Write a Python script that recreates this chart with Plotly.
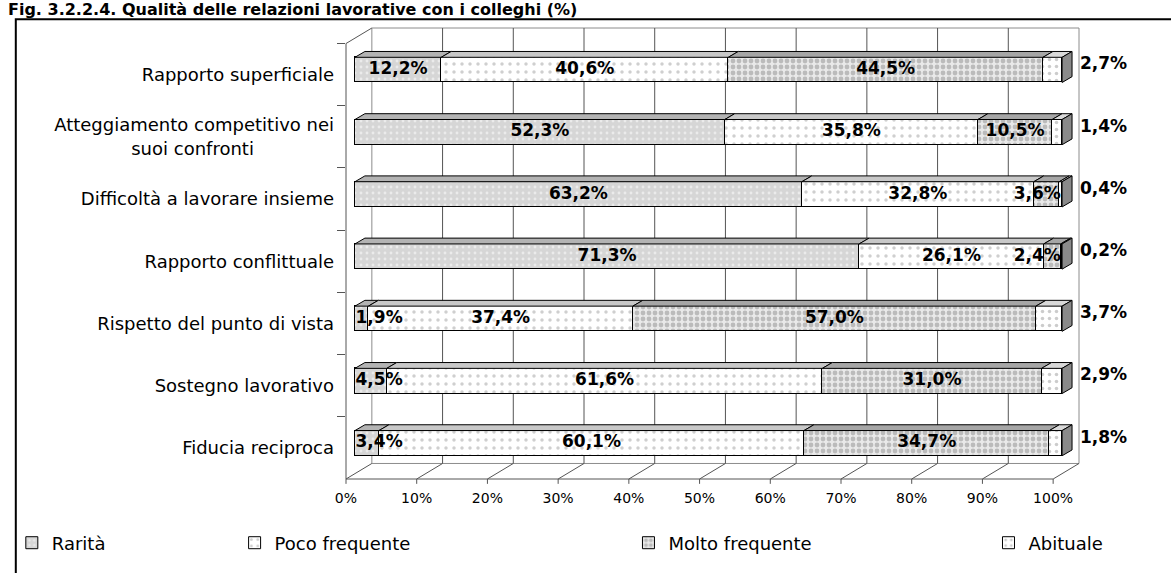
import plotly.graph_objects as go

# ---------------- data ----------------
categories = [
    "Rapporto superficiale",
    "Atteggiamento competitivo nei<br>suoi confronti" + "\u00a0" * 14,
    "Difficoltà a lavorare insieme",
    "Rapporto conflittuale",
    "Rispetto del punto di vista",
    "Sostegno lavorativo",
    "Fiducia reciproca",
]
series_names = ["Rarità", "Poco frequente", "Molto frequente", "Abituale"]
rarita = [12.2, 52.3, 63.2, 71.3, 1.9, 4.5, 3.4]
poco_frequente = [40.6, 35.8, 32.8, 26.1, 37.4, 61.6, 60.1]
molto_frequente = [44.5, 10.5, 3.6, 2.4, 57.0, 31.0, 34.7]
abituale = [2.7, 1.4, 0.4, 0.2, 3.7, 2.9, 1.8]
x_tick_values = [0, 10, 20, 30, 40, 50, 60, 70, 80, 90, 100]
x_tick_labels = ["0%", "10%", "20%", "30%", "40%", "50%", "60%", "70%", "80%", "90%", "100%"]
title_text = "Fig. 3.2.2.4. Qualità delle relazioni lavorative con i colleghi (%)"

# ---------------- styles / geometry ----------------
FONT = "DejaVu Sans"
W, H = 1171, 573
L, R, T, B = 342, 1080, 28, 493           # plot area in pixels
X0_PX = 351                               # pixel of value 0 on the bars
PXU = 7.11                                # pixels per percentage point
BAND_TOP = 44                             # top of first category band
CAT_H = (B - BAND_TOP) / len(categories)  # pixels per category
BAR_SHIFT = -0.076                        # bars drawn slightly above band centre
BAR_W = 0.405
DX = 10 / PXU                             # 3D depth in x units
DY = 6 / CAT_H                            # 3D depth in y units
BACK_OFF = 17                             # back wall offset (px) from bar axis
FRONT_OFF = -9                            # floor front offset (px) from bar axis
FLOOR_BACK = 477
BORDER_TOP = 19

series_vals = [rarita, poco_frequente, molto_frequente, abituale]
fills = ["#d6d6d6", "#ffffff", "#e9e9e9", "#ffffff"]
pat_fg = ["#ffffff", "#a0a0a0", "#8e8e8e", "#999999"]
pat_size = [6, 8, 6, 7]
pat_sol = [0.18, 0.15, 0.5, 0.2]
top_cols = ["#b3b3b3", "#c8c8c8", "#a6a6a6", "#d9d9d9"]
legend_text_x = [48, 272, 668, 1030]
legend_ids = ["legend", "legend2", "legend3", "legend4"]


def pxx(px):
    return (px - L) / (R - L)


def pxy(py):
    return (B - py) / (B - T)


def val_px(v):
    return X0_PX + v * PXU


n = len(categories)
ypos = list(range(n))
ybar = [p + BAR_SHIFT for p in ypos]

fig = go.Figure()

for s, (name, vals) in enumerate(zip(series_names, series_vals)):
    fig.add_trace(go.Bar(
        y=ybar, x=vals, orientation="h", name=name, width=BAR_W,
        legend=legend_ids[s],
        marker=dict(color=fills[s], line=dict(color="black", width=1),
                    pattern=dict(shape=".", fgcolor=pat_fg[s], size=pat_size[s],
                                 solidity=pat_sol[s], fillmode="overlay")),
        hoverinfo="skip",
    ))

# ---- labels ----
def fmt(v):
    return ("%.1f" % v).replace(".", ",") + "%"


CW = {",": 0.38, "%": 1.002}
LBL_SIZE = 17


def half_units(t):
    w = sum(CW.get(c, 0.696) for c in t) * LBL_SIZE
    return w / 2 / PXU


lx, ly, lt = [], [], []
for i in range(n):
    start = 0.0
    for s in range(3):
        v = series_vals[s][i]
        t = fmt(v)
        hu = half_units(t)
        mid = start + v / 2
        if mid - hu < 0:
            mid = hu + 0.1
        elif mid + hu > 100:
            mid = 100 - hu - 0.2
        lx.append(mid)
        ly.append(ybar[i])
        lt.append("<b>" + t + "</b>")
        start += v

fig.add_trace(go.Scatter(
    x=lx, y=ly, text=lt, mode="text", textposition="middle center",
    textfont=dict(family=FONT, size=LBL_SIZE, color="black"),
    showlegend=False, hoverinfo="skip", cliponaxis=False))

totals = [sum(series_vals[s][i] for s in range(4)) for i in range(n)]
fig.add_trace(go.Scatter(
    x=[t + 18 / PXU for t in totals], y=[yb - 5 / CAT_H for yb in ybar],
    text=["<b>" + fmt(v) + "</b>" for v in abituale], mode="text",
    textposition="middle right",
    textfont=dict(family=FONT, size=LBL_SIZE, color="black"),
    showlegend=False, hoverinfo="skip", cliponaxis=False))

# ---- shapes: frame, back wall, floor, 3D faces ----
shapes = []
# outer border
shapes.append(dict(type="rect", xref="paper", yref="paper",
                   x0=pxx(10), x1=pxx(1190), y0=pxy(BORDER_TOP), y1=pxy(600),
                   line=dict(color="black", width=2), layer="below"))
# back wall
bw0, bw1 = val_px(0) + BACK_OFF, val_px(100) + BACK_OFF
shapes.append(dict(type="rect", xref="paper", yref="paper",
                   x0=pxx(bw0), x1=pxx(bw1), y0=pxy(FLOOR_BACK), y1=pxy(T),
                   line=dict(color="#8c8c8c", width=1), layer="below"))
for v in x_tick_values[1:-1]:
    xp = val_px(v) + BACK_OFF
    shapes.append(dict(type="line", xref="paper", yref="paper",
                       x0=pxx(xp), x1=pxx(xp), y0=pxy(FLOOR_BACK), y1=pxy(T),
                       line=dict(color="#555555", width=1), layer="below"))
# floor diagonals + front line + ticks
for v in x_tick_values:
    xf = val_px(v) + FRONT_OFF
    xb = val_px(v) + BACK_OFF
    shapes.append(dict(type="line", xref="paper", yref="paper",
                       x0=pxx(xf), x1=pxx(xb), y0=pxy(B), y1=pxy(FLOOR_BACK),
                       line=dict(color="#555555", width=1), layer="below"))
    shapes.append(dict(type="line", xref="paper", yref="paper",
                       x0=pxx(xf), x1=pxx(xf), y0=pxy(B), y1=pxy(B + 5),
                       line=dict(color="#555555", width=1), layer="below"))
shapes.append(dict(type="line", xref="paper", yref="paper",
                   x0=pxx(val_px(0) + FRONT_OFF), x1=pxx(val_px(100) + FRONT_OFF),
                   y0=pxy(B), y1=pxy(B), line=dict(color="#555555", width=1), layer="below"))
# left side wall
shapes.append(dict(type="line", xref="paper", yref="paper",
                   x0=pxx(L), x1=pxx(L), y0=pxy(BAND_TOP), y1=pxy(B),
                   line=dict(color="#555555", width=1), layer="below"))
shapes.append(dict(type="line", xref="paper", yref="paper",
                   x0=pxx(L), x1=pxx(bw0), y0=pxy(BAND_TOP), y1=pxy(T),
                   line=dict(color="#555555", width=1), layer="below"))

# 3D top faces and end faces of bars
for i in range(n):
    yt = ybar[i] - BAR_W / 2
    ybt = ybar[i] + BAR_W / 2
    start = 0.0
    for s in range(4):
        v = series_vals[s][i]
        x0, x1 = start, start + v
        path = "M %f,%f L %f,%f L %f,%f L %f,%f Z" % (
            x0, yt, x1, yt, x1 + DX, yt - DY, x0 + DX, yt - DY)
        shapes.append(dict(type="path", xref="x", yref="y", path=path,
                           fillcolor=top_cols[s], line=dict(color="black", width=1)))
        start = x1
    path = "M %f,%f L %f,%f L %f,%f L %f,%f Z" % (
        start, yt, start + DX, yt - DY, start + DX, ybt - DY, start, ybt)
    shapes.append(dict(type="path", xref="x", yref="y", path=path,
                       fillcolor="#8a8a8a", line=dict(color="black", width=1)))

# ---- layout ----
legends = {}
for k, lid in enumerate(legend_ids):
    legends[lid] = dict(x=pxx(legend_text_x[k] - 42), y=pxy(559), xanchor="left",
                        yanchor="middle", bgcolor="rgba(0,0,0,0)", borderwidth=0,
                        font=dict(family=FONT, size=18, color="black"),
                        itemclick=False, itemdoubleclick=False)

fig.update_layout(
    width=W, height=H, autosize=False,
    margin=dict(l=L, r=W - R, t=T, b=H - B, pad=0),
    paper_bgcolor="white", plot_bgcolor="rgba(0,0,0,0)",
    barmode="stack", bargap=0,
    font=dict(family=FONT, color="black"),
    showlegend=True,
    shapes=shapes,
    xaxis=dict(range=[(L - X0_PX) / PXU, (R - X0_PX) / PXU], showgrid=False,
               zeroline=False, showline=False, tickvals=x_tick_values,
               ticktext=x_tick_labels, ticks="", ticklabelshift=FRONT_OFF,
               ticklabelstandoff=9, tickfont=dict(family=FONT, size=14, color="black"),
               fixedrange=True),
    yaxis=dict(range=[n - 0.5, -0.5 - (BAND_TOP - T) / CAT_H], showgrid=False,
               zeroline=False, showline=False, tickvals=ypos, ticktext=categories,
               ticks="", ticklabelstandoff=11,
               tickfont=dict(family=FONT, size=18, color="black"),
               minor=dict(tickvals=[p - 0.5 for p in ypos], ticks="outside",
                          ticklen=8, tickcolor="#555555", showgrid=False),
               fixedrange=True),
    annotations=[dict(text="<b>" + title_text + "</b>", xref="paper", yref="paper",
                      x=pxx(0), y=pxy(8.5), xanchor="left", yanchor="middle",
                      showarrow=False, font=dict(family=FONT, size=16, color="black"))],
    **legends,
)

fig.write_html("out.html", config={"displayModeBar": False},
               post_script="document.body.style.margin='0';")
